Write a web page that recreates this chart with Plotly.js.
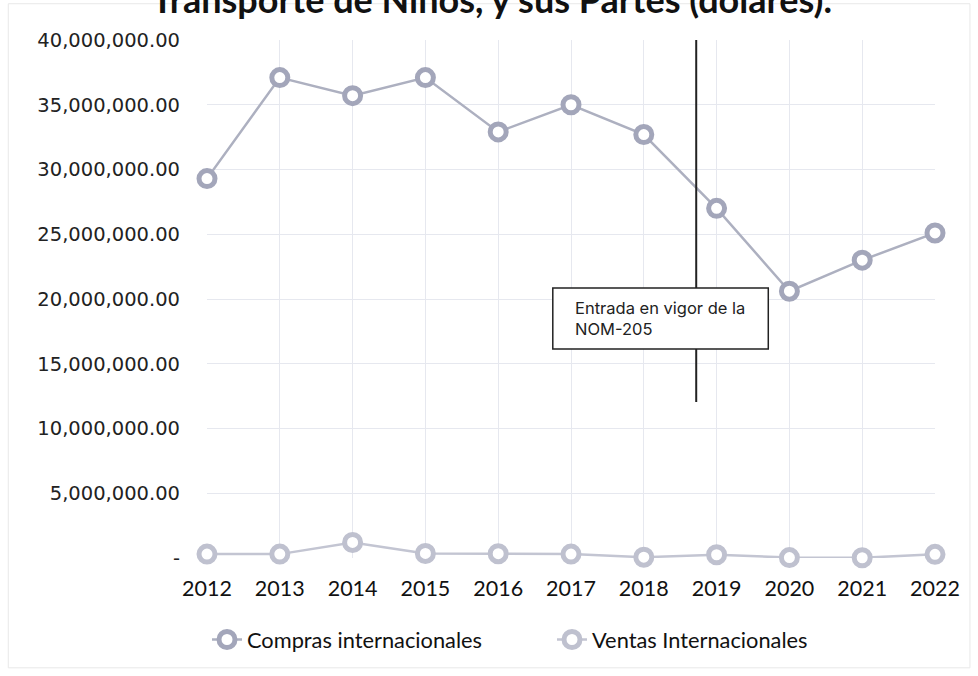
<!DOCTYPE html>
<html>
<head>
<meta charset="utf-8">
<script src="https://cdn.plot.ly/plotly-3.0.1.min.js"></script>
<style>html,body{margin:0;padding:0;background:#fff;}#chart{width:978px;height:676px;}</style>
</head>
<body>
<div id="chart"></div>
<script>
const years = ['2012','2013','2014','2015','2016','2017','2018','2019','2020','2021','2022'];
const compras = [29300000, 37100000, 35700000, 37100000, 32900000, 35000000, 32700000, 27000000, 20600000, 23000000, 25100000];
const ventas = [300000, 300000, 1200000, 350000, 330000, 300000, 60000, 250000, 30000, 20000, 280000];
const yTickVals = [0, 5000000, 10000000, 15000000, 20000000, 25000000, 30000000, 35000000, 40000000];
const yTickText = ['-', '5,000,000.00', '10,000,000.00', '15,000,000.00', '20,000,000.00', '25,000,000.00', '30,000,000.00', '35,000,000.00', '40,000,000.00'];
const titleText = 'Transporte de Niños, y sus Partes (dólares).';
const noteText = 'Entrada en vigor de la<br>NOM-205';

const traces = [
  {
    x: years, y: compras, name: 'Compras internacionales', type: 'scatter', mode: 'lines+markers',
    line: {color: '#adb0c0', width: 2.5},
    marker: {symbol: 'circle', size: 16, color: '#ffffff', line: {color: '#a3a6ba', width: 5}},
    cliponaxis: false
  },
  {
    x: years, y: ventas, name: 'Ventas Internacionales', type: 'scatter', mode: 'lines+markers',
    line: {color: '#c3c5d2', width: 2.5},
    marker: {symbol: 'circle', size: 16, color: '#ffffff', line: {color: '#bfc1cf', width: 5}},
    cliponaxis: false
  }
];

const layout = {
  width: 978, height: 676,
  margin: {l: 207, r: 43, t: 40, b: 118},
  paper_bgcolor: '#ffffff', plot_bgcolor: '#ffffff',
  title: {text: '<b>' + titleText + '</b>', x: 0.503, xanchor: 'center', y: 1, yanchor: 'middle', yref: 'container',
          font: {family: 'Lato', size: 36, color: '#111111'}},
  xaxis: {
    type: 'category', range: [0, 10], showgrid: true, gridcolor: '#e6e8ef', gridwidth: 1,
    zeroline: false, showline: false, ticks: '', ticklabelstandoff: 15,
    tickfont: {family: 'Lato', size: 21.5, color: '#111111'}, fixedrange: true
  },
  yaxis: {
    range: [0, 40000000], tickvals: yTickVals, ticktext: yTickText, showgrid: true, gridcolor: '#e6e8ef', gridwidth: 1,
    zeroline: false, showline: false, ticks: '', ticklabelstandoff: 26,
    tickfont: {family: 'DejaVu Sans', size: 19.5, color: '#222222'}, fixedrange: true
  },
  showlegend: true,
  legend: {orientation: 'h', x: 0.0, xanchor: 'left', y: -0.158, yanchor: 'middle', entrywidth: 300,
           font: {family: 'Lato', size: 21.8, color: '#111111'}, bgcolor: 'rgba(0,0,0,0)'},
  shapes: [
    {type: 'rect', xref: 'paper', yref: 'paper', x0: -0.273, x1: 1.048, y0: -0.212, y1: 1.07,
     line: {color: '#e8e8e8', width: 1}, fillcolor: 'rgba(0,0,0,0)', layer: 'below'},
    {type: 'line', xref: 'paper', yref: 'paper', x0: 0.672, x1: 0.672, y0: 0.301, y1: 1.0,
     line: {color: '#222222', width: 2}},
    {type: 'rect', xref: 'paper', yref: 'paper', x0: 0.475, x1: 0.771, y0: 0.4035, y1: 0.521,
     line: {color: '#222222', width: 1.5}, fillcolor: '#ffffff'}
  ],
  annotations: [
    {xref: 'paper', yref: 'paper', x: 0.503, y: 0.463, xanchor: 'left', yanchor: 'middle', align: 'left',
     showarrow: false, text: noteText, font: {family: 'Inter', size: 16.5, color: '#222222'}}
  ]
};

Plotly.newPlot('chart', traces, layout, {displayModeBar: false, staticPlot: true});
</script>
</body>
</html>
